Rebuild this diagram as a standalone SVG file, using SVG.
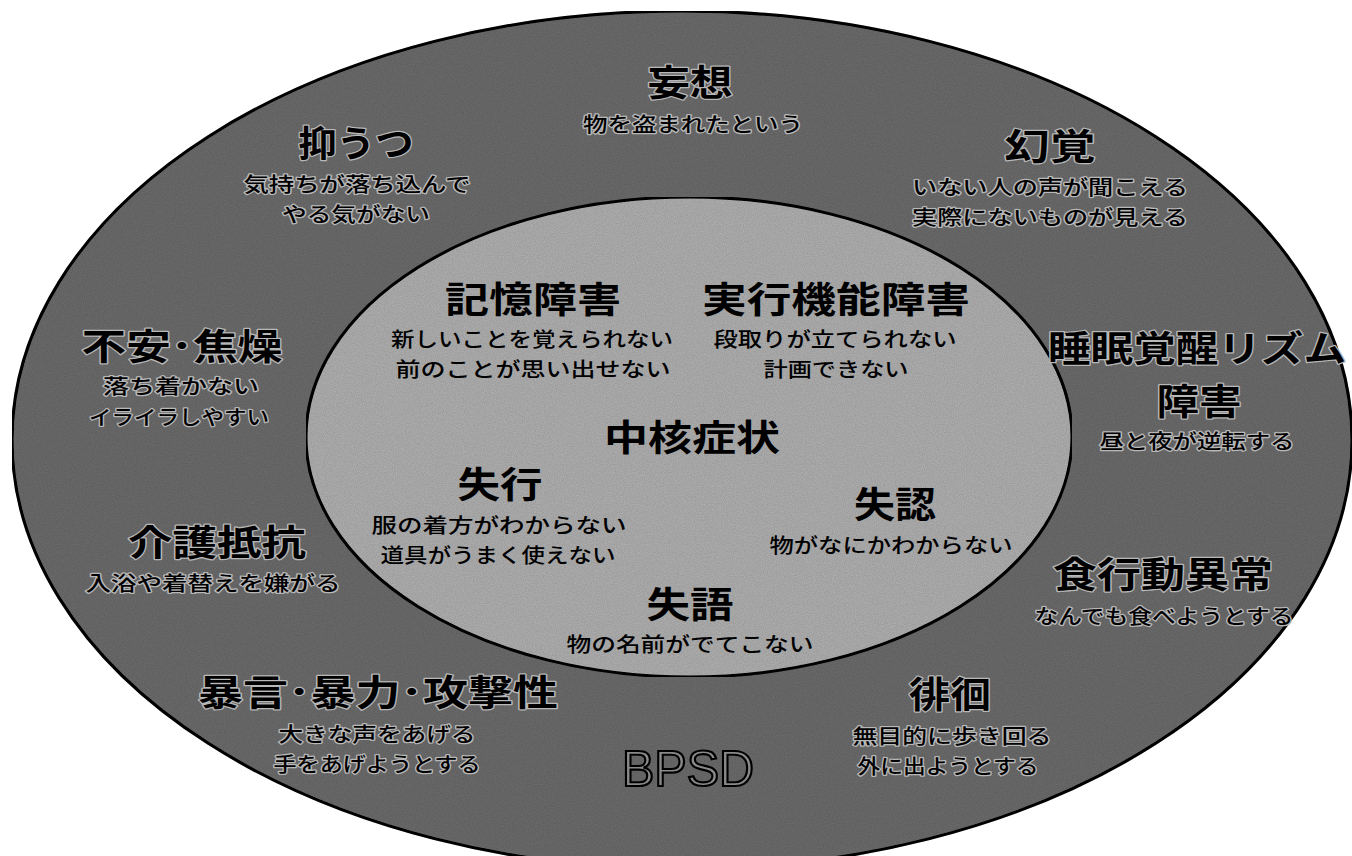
<svg xmlns="http://www.w3.org/2000/svg" width="1352" height="856" viewBox="0 0 1352 856">
<style>
text{font-family:"Noto Sans CJK JP","Noto Sans",sans-serif;text-anchor:middle;dominant-baseline:central;fill:#000}
.h{font-weight:700;font-size:36px}
.s{font-weight:500;font-size:20px}
.o{stroke:#b8b8b8;stroke-width:2.5px;paint-order:stroke;stroke-linejoin:round}
.bp{font-family:"Liberation Sans",Arial,sans-serif;font-size:50px;fill:#8a8a8a;stroke:#000;stroke-width:2.2px}
</style>
<defs>
<filter id="grain" x="0" y="0" width="100%" height="100%">
<feTurbulence type="fractalNoise" baseFrequency="0.9" numOctaves="2" seed="3" result="n"/>
<feColorMatrix in="n" type="matrix" values="0 0 0 0 0  0 0 0 0 0  0 0 0 0 0  0 0 0 0.35 0" result="g"/>
<feComposite in="g" in2="SourceGraphic" operator="in" result="m"/>
<feMerge><feMergeNode in="SourceGraphic"/><feMergeNode in="m"/></feMerge>
</filter>
</defs>
<rect width="1352" height="856" fill="#fff"/>
<g id="bpsd-area">
<ellipse cx="682" cy="440" rx="670" ry="429" fill="#6e6e6e" stroke="#000" stroke-width="3" filter="url(#grain)"/>
</g>
<g id="core-area">
<ellipse cx="689" cy="437" rx="383" ry="240" fill="#b4b4b4" stroke="#000" stroke-width="3" filter="url(#grain)"/>
</g>

<g id="mousou">
<text class="h o" x="690" y="80" textLength="85" lengthAdjust="spacingAndGlyphs">妄想</text>
<text class="s o" x="693" y="123" textLength="220" lengthAdjust="spacingAndGlyphs">物を盗まれたという</text>
</g>
<g id="yokuutsu">
<text class="h o" x="356" y="141" textLength="115" lengthAdjust="spacingAndGlyphs">抑うつ</text>
<text class="s o" x="357" y="183" textLength="227" lengthAdjust="spacingAndGlyphs">気持ちが落ち込んで</text>
<text class="s o" x="356" y="213" textLength="148" lengthAdjust="spacingAndGlyphs">やる気がない</text>
</g>
<g id="genkaku">
<text class="h o" x="1050" y="144" textLength="91" lengthAdjust="spacingAndGlyphs">幻覚</text>
<text class="s o" x="1050" y="186" textLength="276" lengthAdjust="spacingAndGlyphs">いない人の声が聞こえる</text>
<text class="s o" x="1050" y="216" textLength="276" lengthAdjust="spacingAndGlyphs">実際にないものが見える</text>
</g>
<g id="fuan">
<text class="h o" x="182" y="344" textLength="201" lengthAdjust="spacingAndGlyphs">不安･焦燥</text>
<text class="s o" x="181" y="385" textLength="156" lengthAdjust="spacingAndGlyphs">落ち着かない</text>
<text class="s o" x="179" y="416" textLength="180" lengthAdjust="spacingAndGlyphs">イライラしやすい</text>
</g>
<g id="suimin">
<text class="h o" x="1197" y="346" textLength="298" lengthAdjust="spacingAndGlyphs">睡眠覚醒リズム</text>
<text class="h o" x="1199" y="399" textLength="85" lengthAdjust="spacingAndGlyphs">障害</text>
<text class="s o" x="1197" y="440" textLength="195" lengthAdjust="spacingAndGlyphs">昼と夜が逆転する</text>
</g>
<g id="kaigo">
<text class="h o" x="217" y="540" textLength="178" lengthAdjust="spacingAndGlyphs">介護抵抗</text>
<text class="s o" x="213" y="582" textLength="255" lengthAdjust="spacingAndGlyphs">入浴や着替えを嫌がる</text>
</g>
<g id="shoku">
<text class="h o" x="1163" y="572" textLength="220" lengthAdjust="spacingAndGlyphs">食行動異常</text>
<text class="s o" x="1164" y="615" textLength="259" lengthAdjust="spacingAndGlyphs">なんでも食べようとする</text>
</g>
<g id="bougen">
<text class="h o" x="378" y="690" textLength="360" lengthAdjust="spacingAndGlyphs">暴言･暴力･攻撃性</text>
<text class="s o" x="377" y="733" textLength="197" lengthAdjust="spacingAndGlyphs">大きな声をあげる</text>
<text class="s o" x="377" y="763" textLength="207" lengthAdjust="spacingAndGlyphs">手をあげようとする</text>
</g>
<g id="haikai">
<text class="h o" x="950" y="692" textLength="82" lengthAdjust="spacingAndGlyphs">徘徊</text>
<text class="s o" x="952" y="735" textLength="199" lengthAdjust="spacingAndGlyphs">無目的に歩き回る</text>
<text class="s o" x="948" y="765" textLength="181" lengthAdjust="spacingAndGlyphs">外に出ようとする</text>
</g>
<g id="bpsd-label">
<text class="bp" x="688" y="769" textLength="132" lengthAdjust="spacingAndGlyphs">BPSD</text>
</g>

<g id="kioku">
<text class="h" x="533" y="297" textLength="176" lengthAdjust="spacingAndGlyphs">記憶障害</text>
<text class="s" x="532" y="338" textLength="282" lengthAdjust="spacingAndGlyphs">新しいことを覚えられない</text>
<text class="s" x="533" y="368" textLength="275" lengthAdjust="spacingAndGlyphs">前のことが思い出せない</text>
</g>
<g id="jikkou">
<text class="h" x="836" y="297" textLength="268" lengthAdjust="spacingAndGlyphs">実行機能障害</text>
<text class="s" x="835" y="338" textLength="243" lengthAdjust="spacingAndGlyphs">段取りが立てられない</text>
<text class="s" x="836" y="368" textLength="145" lengthAdjust="spacingAndGlyphs">計画できない</text>
</g>
<g id="chukaku">
<text class="h" x="692" y="435" textLength="176" lengthAdjust="spacingAndGlyphs">中核症状</text>
</g>
<g id="shikkou">
<text class="h" x="500" y="482" textLength="85" lengthAdjust="spacingAndGlyphs">失行</text>
<text class="s" x="499" y="524" textLength="255" lengthAdjust="spacingAndGlyphs">服の着方がわからない</text>
<text class="s" x="498" y="554" textLength="235" lengthAdjust="spacingAndGlyphs">道具がうまく使えない</text>
</g>
<g id="shitsunin">
<text class="h" x="895" y="502" textLength="82" lengthAdjust="spacingAndGlyphs">失認</text>
<text class="s" x="891" y="544" textLength="243" lengthAdjust="spacingAndGlyphs">物がなにかわからない</text>
</g>
<g id="shitsugo">
<text class="h" x="690" y="602" textLength="87" lengthAdjust="spacingAndGlyphs">失語</text>
<text class="s" x="690" y="643" textLength="247" lengthAdjust="spacingAndGlyphs">物の名前がでてこない</text>
</g>
</svg>
